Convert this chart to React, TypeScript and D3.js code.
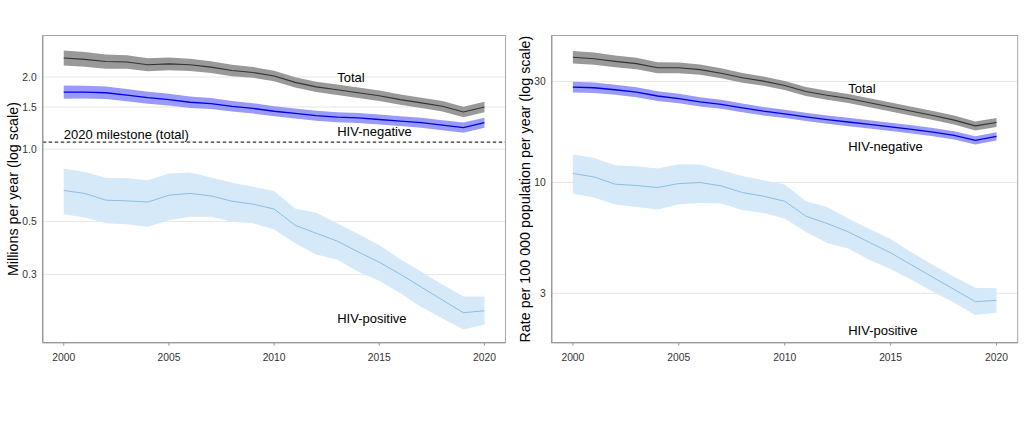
import React from "react";
import * as d3 from "d3";

const years = d3.range(2000, 2021);

// Left panel: millions per year
const absTotal = [2.40, 2.37, 2.32, 2.31, 2.25, 2.27, 2.25, 2.20, 2.13, 2.09, 2.02, 1.90, 1.82, 1.77, 1.72, 1.67, 1.61, 1.56, 1.51, 1.43, 1.50];
const absTotalHi = [2.579, 2.541, 2.482, 2.466, 2.397, 2.413, 2.386, 2.328, 2.249, 2.202, 2.124, 1.997, 1.913, 1.861, 1.808, 1.756, 1.693, 1.640, 1.587, 1.503, 1.577];
const absTotalLo = [2.233, 2.210, 2.168, 2.164, 2.112, 2.136, 2.121, 2.079, 2.017, 1.984, 1.921, 1.807, 1.731, 1.684, 1.636, 1.589, 1.531, 1.484, 1.436, 1.360, 1.427];
const absNeg = [1.73, 1.73, 1.72, 1.68, 1.64, 1.61, 1.57, 1.55, 1.51, 1.48, 1.44, 1.41, 1.38, 1.36, 1.35, 1.33, 1.31, 1.29, 1.26, 1.23, 1.29];
const absNegHi = [1.842, 1.840, 1.826, 1.781, 1.736, 1.702, 1.657, 1.634, 1.589, 1.555, 1.511, 1.479, 1.448, 1.427, 1.416, 1.395, 1.374, 1.353, 1.322, 1.291, 1.353];
const absNegLo = [1.624, 1.627, 1.620, 1.585, 1.549, 1.523, 1.487, 1.471, 1.435, 1.409, 1.372, 1.344, 1.315, 1.296, 1.287, 1.268, 1.249, 1.230, 1.201, 1.172, 1.230];
const absPos = [0.673, 0.654, 0.613, 0.609, 0.602, 0.643, 0.654, 0.639, 0.607, 0.590, 0.563, 0.482, 0.446, 0.414, 0.373, 0.338, 0.301, 0.266, 0.235, 0.208, 0.212];
const absPosHi = [0.831, 0.804, 0.760, 0.757, 0.743, 0.792, 0.800, 0.762, 0.724, 0.697, 0.670, 0.566, 0.543, 0.491, 0.443, 0.398, 0.348, 0.308, 0.273, 0.243, 0.243];
const absPosLo = [0.536, 0.519, 0.491, 0.486, 0.475, 0.506, 0.523, 0.523, 0.498, 0.491, 0.463, 0.405, 0.364, 0.347, 0.308, 0.283, 0.251, 0.220, 0.197, 0.177, 0.186];
const milestone = 1.07;
const absTicks = [0.3, 0.5, 1.0, 1.5, 2.0];
const absTickLabels = ["0.3", "0.5", "1.0", "1.5", "2.0"];

// Right panel: rate per 100 000 population
const rateTotal = [39.0, 38.4, 37.3, 36.4, 34.8, 34.8, 34.1, 32.8, 31.2, 30.1, 28.7, 26.9, 25.8, 24.9, 23.8, 22.7, 21.7, 20.7, 19.7, 18.5, 19.2];
const rateTotalHi = [41.75, 41.02, 39.77, 38.74, 36.97, 36.89, 36.08, 34.64, 32.89, 31.67, 30.14, 28.25, 27.10, 26.15, 25.00, 23.84, 22.79, 21.74, 20.69, 19.43, 20.16];
const rateTotalLo = [36.44, 35.95, 34.98, 34.20, 32.76, 32.82, 32.22, 31.05, 29.60, 28.61, 27.33, 25.61, 24.57, 23.71, 22.66, 21.62, 20.66, 19.71, 18.76, 17.62, 18.28];
const rateNeg = [28.2, 28.0, 27.4, 26.7, 25.6, 24.9, 24.0, 23.4, 22.5, 21.7, 21.1, 20.4, 19.8, 19.3, 18.8, 18.3, 17.8, 17.3, 16.7, 15.8, 16.5];
const rateNegHi = [29.88, 29.63, 28.96, 28.18, 26.99, 26.21, 25.24, 24.57, 23.60, 22.73, 22.07, 21.34, 20.71, 20.19, 19.66, 19.14, 18.62, 18.10, 17.47, 16.53, 17.26];
const rateNegLo = [26.61, 26.46, 25.92, 25.29, 24.28, 23.65, 22.82, 22.28, 21.45, 20.72, 20.17, 19.50, 18.93, 18.45, 17.97, 17.50, 17.02, 16.54, 15.97, 15.11, 15.77];
const ratePos = [11.03, 10.63, 9.82, 9.68, 9.47, 9.89, 10.0, 9.64, 8.97, 8.62, 8.16, 6.94, 6.41, 5.85, 5.22, 4.66, 4.08, 3.57, 3.13, 2.74, 2.78];
const ratePosHi = [13.55, 13.06, 12.06, 11.93, 11.64, 12.20, 12.16, 11.43, 10.74, 10.25, 9.79, 8.16, 7.67, 6.77, 6.03, 5.41, 4.68, 4.08, 3.59, 3.19, 3.17];
const ratePosLo = [8.88, 8.50, 7.88, 7.67, 7.46, 7.90, 8.01, 7.96, 7.41, 7.19, 6.77, 5.85, 5.19, 4.89, 4.31, 3.91, 3.47, 3.05, 2.71, 2.37, 2.43];
const rateTicks = [3, 10, 30];
const rateTickLabels = ["3", "10", "30"];

const xTicks = [2000, 2005, 2010, 2015, 2020];
const labelYear = 2013;

const FONT = "'Liberation Sans', Arial, sans-serif";

type Series = { v: number[]; lo: number[]; hi: number[]; band: string; line: string; lw: number };
type Label = { text: string; value: number };

function Panel(props: {
  x0: number; x1: number; y0: number; y1: number;
  yDomain: [number, number];
  series: Series[];
  ticks: number[]; tickLabels: string[];
  title: string; titleX: number;
  labels: Label[];
  milestone?: number;
}) {
  const { x0, x1, y0, y1 } = props;
  const x = d3.scaleLinear().domain([1999, 2021]).range([x0, x1]);
  const y = d3.scaleLog().domain(props.yDomain).range([y1, y0]);
  const area = (s: Series) =>
    d3.area<number>().x((_, i) => x(years[i])).y0((_, i) => y(s.lo[i])).y1((_, i) => y(s.hi[i]))(years) || "";
  const line = (s: Series) => d3.line<number>().x((_, i) => x(years[i])).y((_, i) => y(s.v[i]))(years) || "";
  const cy = (y0 + y1) / 2;
  return (
    <g>
      {props.ticks.map((t) => (
        <line key={"g" + t} x1={x0} x2={x1} y1={y(t)} y2={y(t)} stroke="#e6e6e6" strokeWidth={1} />
      ))}
      {props.series.map((s, i) => (
        <path key={"a" + i} d={area(s)} fill={s.band} stroke="none" />
      ))}
      {props.series.map((s, i) => (
        <path key={"l" + i} d={line(s)} fill="none" stroke={s.line} strokeWidth={s.lw} />
      ))}
      {props.milestone !== undefined && (
        <g>
          <line x1={x0} x2={x1} y1={y(props.milestone)} y2={y(props.milestone)} stroke="#333" strokeWidth={1.1} strokeDasharray="3.5,2.5" />
          <text x={x(2000)} y={y(props.milestone) - 3} fontSize={13} fontFamily={FONT} fill="#000">2020 milestone (total)</text>
        </g>
      )}
      {props.labels.map((l) => (
        <text key={l.text} x={x(labelYear)} y={y(l.value)} dy="0.35em" fontSize={13} fontFamily={FONT} fill="#000">{l.text}</text>
      ))}
      <rect x={x0} y={y0} width={x1 - x0} height={y1 - y0} fill="none" stroke="#a6a6a6" strokeWidth={1} />
      <line x1={x0} x2={x0} y1={y0} y2={y1} stroke="#999" strokeWidth={1.3} />
      <line x1={x0} x2={x1} y1={y1} y2={y1} stroke="#999" strokeWidth={1.3} />
      {xTicks.map((t) => (
        <g key={"x" + t}>
          <line x1={x(t)} x2={x(t)} y1={y1} y2={y1 + 3} stroke="#999" />
          <text x={x(t)} y={y1 + 18} textAnchor="middle" fontSize={10.3} fontFamily={FONT} fill="#333">{t}</text>
        </g>
      ))}
      {props.ticks.map((t, i) => (
        <text key={"y" + t} x={x0 - 6} y={y(t)} dy="0.35em" textAnchor="end" fontSize={10.3} fontFamily={FONT} fill="#333">{props.tickLabels[i]}</text>
      ))}
      <text transform={`translate(${props.titleX},${cy}) rotate(-90)`} textAnchor="middle" dy="0.35em" fontSize={14.3} fontFamily={FONT} fill="#000">{props.title}</text>
    </g>
  );
}

export default function App() {
  const leftSeries: Series[] = [
    { v: absPos, lo: absPosLo, hi: absPosHi, band: "#d6e9f8", line: "#8cbfe3", lw: 1 },
    { v: absTotal, lo: absTotalLo, hi: absTotalHi, band: "#999999", line: "#333333", lw: 1.1 },
    { v: absNeg, lo: absNegLo, hi: absNegHi, band: "#9a9af8", line: "#0000e0", lw: 1.3 },
  ];
  const rightSeries: Series[] = [
    { v: ratePos, lo: ratePosLo, hi: ratePosHi, band: "#d6e9f8", line: "#8cbfe3", lw: 1 },
    { v: rateTotal, lo: rateTotalLo, hi: rateTotalHi, band: "#999999", line: "#333333", lw: 1.1 },
    { v: rateNeg, lo: rateNegLo, hi: rateNegHi, band: "#9a9af8", line: "#0000e0", lw: 1.3 },
  ];
  return (
    <svg width={1024} height={427} style={{ position: "absolute", left: 0, top: 0, background: "#fff" }}>
      <Panel x0={42.7} x1={505.5} y0={35.5} y1={342.7} yDomain={[0.156, 2.98]} series={leftSeries}
        ticks={absTicks} tickLabels={absTickLabels} title="Millions per year (log scale)" titleX={12.7}
        labels={[{ text: "Total", value: 1.99 }, { text: "HIV-negative", value: 1.19 }, { text: "HIV-positive", value: 0.197 }]}
        milestone={milestone} />
      <Panel x0={551.7} x1={1017.7} y0={35.5} y1={342.7} yDomain={[1.755, 49.4]} series={rightSeries}
        ticks={rateTicks} tickLabels={rateTickLabels} title="Rate per 100 000 population per year (log scale)" titleX={524.7}
        labels={[{ text: "Total", value: 27.7 }, { text: "HIV-negative", value: 14.8 }, { text: "HIV-positive", value: 2.01 }]} />
    </svg>
  );
}
